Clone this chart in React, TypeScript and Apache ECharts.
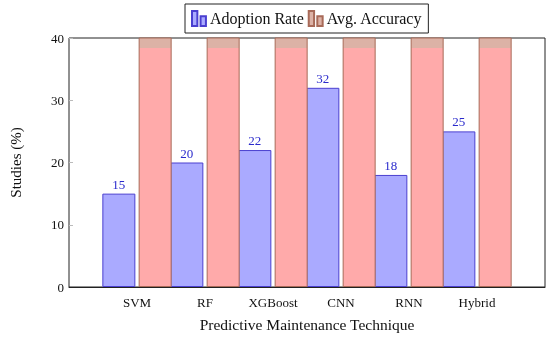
import React, { useEffect, useRef } from "react";
import * as echarts from "echarts";

const categories = ["SVM", "RF", "XGBoost", "CNN", "RNN", "Hybrid"];
const adoptionRate = [15, 20, 22, 32, 18, 25];
const avgAccuracy = [85, 88, 92, 94, 89, 95];
const yTicks = [0, 10, 20, 30, 40];

const FONT = "'Liberation Serif', 'DejaVu Serif', serif";

export default function App() {
  const ref = useRef<HTMLDivElement>(null);

  useEffect(() => {
    if (!ref.current) return;
    const chart = echarts.init(ref.current, undefined, { renderer: "svg" });
    const redFill = new echarts.graphic.LinearGradient(
      0, 47.5, 0, 48.5,
      [
        { offset: 0, color: "#dcb2a6" },
        { offset: 1, color: "#ffaaaa" },
      ],
      true
    );
    chart.setOption({
      animation: false,
      textStyle: { fontFamily: FONT },
      legend: {
        left: 185,
        top: 4,
        padding: [6, 6, 6, 6],
        itemGap: 4,
        itemWidth: 14,
        itemHeight: 15,
        borderColor: "#222",
        borderWidth: 1,
        borderRadius: 0,
        textStyle: { fontFamily: FONT, fontSize: 16, color: "#111", padding: [0, 0, 0, -1] },
        icon: "path://M0,0h5v14h-5z M8,5h5v9h-5z",
        data: ["Adoption Rate", "Avg. Accuracy"],
      },
      grid: {
        left: 67,
        right: 5,
        top: 38,
        bottom: 50,
        show: true,
        borderColor: "#222",
        borderWidth: 1,
        backgroundColor: "#fff",
      },
      xAxis: {
        type: "value",
        min: 0,
        max: categories.length + 1,
        interval: 1,
        z: 10,
        splitLine: { show: false },
        axisTick: { show: false },
        axisLine: { show: true, onZero: false, lineStyle: { color: "#222", width: 1 } },
        axisLabel: {
          fontFamily: FONT,
          fontSize: 13,
          color: "#111",
          margin: 9,
          formatter: (v: number) => (v >= 1 && v <= categories.length ? categories[v - 1] : ""),
        },
        name: "Predictive Maintenance Technique",
        nameLocation: "middle",
        nameGap: 29,
        nameTextStyle: { fontFamily: FONT, fontSize: 15.5, color: "#111" },
      },
      yAxis: {
        type: "value",
        min: 0,
        max: yTicks[yTicks.length - 1],
        interval: yTicks[1] - yTicks[0],
        splitLine: { show: false },
        axisLine: { show: false },
        axisTick: { show: true, inside: true, length: 4, lineStyle: { color: "#bbb" } },
        axisLabel: { fontFamily: FONT, fontSize: 13, color: "#111", margin: 5 },
        name: "Studies (%)",
        nameLocation: "middle",
        nameGap: 46,
        nameTextStyle: { fontFamily: FONT, fontSize: 15, color: "#111" },
      },
      series: [
        {
          name: "Adoption Rate",
          type: "bar",
          barWidth: 33,
          barGap: "10%",
          data: adoptionRate.map((v, i) => [i + 1, v]),
          itemStyle: { color: "#aaaaff", borderColor: "#4a3fd0", borderWidth: 1 },
          label: {
            show: true,
            position: "top",
            distance: 3,
            fontFamily: FONT,
            fontSize: 13,
            color: "#2a2acc",
          },
        },
        {
          name: "Avg. Accuracy",
          type: "bar",
          barWidth: 33,
          barGap: "10%",
          clip: true,
          data: avgAccuracy.map((v, i) => [i + 1, v]),
          itemStyle: { color: redFill, borderColor: "#a86a58", borderWidth: 1 },
        },
      ],
    });
    return () => chart.dispose();
  }, []);

  return (
    <div
      ref={ref}
      style={{ position: "fixed", left: 0, top: 0, width: 550, height: 337 }}
    />
  );
}
